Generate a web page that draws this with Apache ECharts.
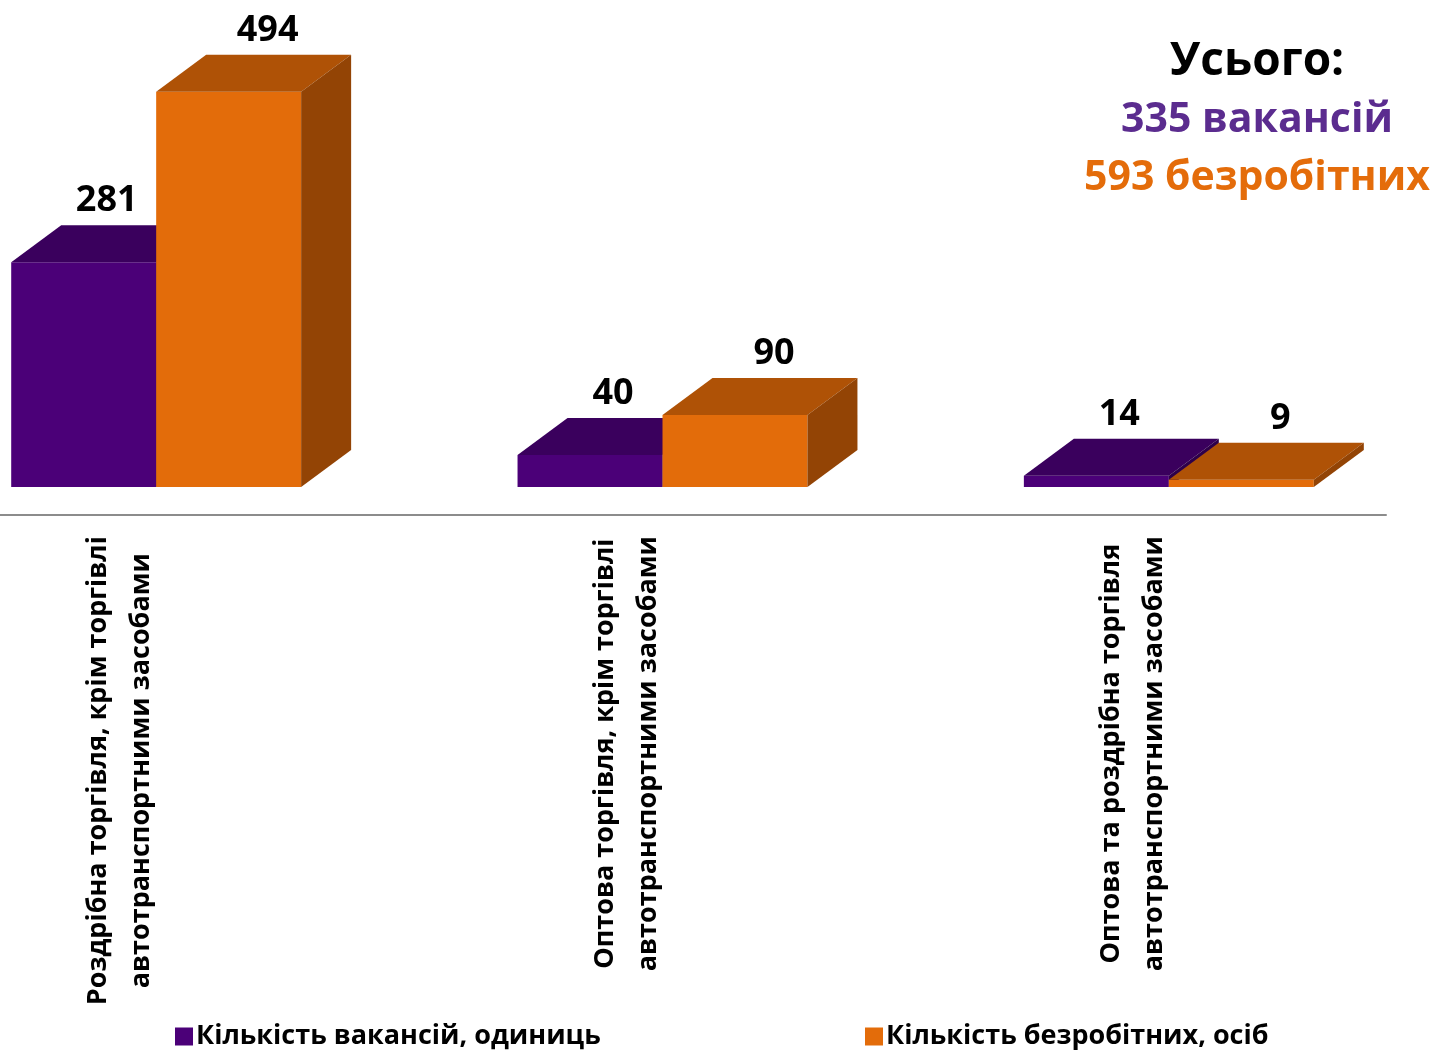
<!DOCTYPE html>
<html>
<head>
<meta charset="utf-8">
<script src="https://cdn.jsdelivr.net/npm/echarts@6/dist/echarts.min.js"></script>
<style>
html,body{margin:0;padding:0;background:#fff;}
#chart{width:1443px;height:1051px;}
</style>
</head>
<body>
<div id="chart"></div>
<script>
var categories = [
  'Роздрібна торгівля, крім торгівлі\nавтотранспортними засобами',
  'Оптова торгівля, крім торгівлі\nавтотранспортними засобами',
  'Оптова та роздрібна торгівля\nавтотранспортними засобами'
];
var vacancies = [281, 40, 14];
var unemployed = [494, 90, 9];
var seriesNames = ['Кількість вакансій, одиниць', 'Кількість безробітних, осіб'];
var totalLabel = 'Усього:';
var vacWord = 'вакансій';
var unempWord = 'безробітних';

var FONT = '"Open Sans", "Noto Sans", sans-serif';
var palettes = [
  {front: '#4B0078', top: '#3A005D', side: '#2E004A'},
  {front: '#E36C0A', top: '#AF5206', side: '#934405'}
];
var DX = 50, DY = -37;
var BAR_FRAC = 0.2863, OFFSET = -0.2152;

function sum(a){ var s=0; for (var i=0;i<a.length;i++) s+=a[i]; return s; }

function makeRender(sIdx) {
  var pal = palettes[sIdx];
  return function (params, api) {
    var cat = api.value(0), val = api.value(1);
    var base = api.coord([cat, 0]);
    var top = api.coord([cat, val]);
    var band = api.size([1, 0])[0];
    var bw = band * BAR_FRAC;
    var x0 = base[0] + band * OFFSET + sIdx * bw;
    var x1 = x0 + bw;
    var yb = base[1], yt = top[1];
    return {
      type: 'group',
      children: [
        {type: 'rect', shape: {x: x0, y: yt, width: bw, height: yb - yt},
         style: {fill: pal.front}},
        {type: 'polygon', shape: {points: [[x0, yt], [x0 + DX, yt + DY], [x1 + DX, yt + DY], [x1, yt]]},
         style: {fill: pal.top}},
        {type: 'polygon', shape: {points: [[x1, yt], [x1 + DX, yt + DY], [x1 + DX, yb + DY], [x1, yb]]},
         style: {fill: pal.side}},
        {type: 'text', x: (x0 + x1) / 2 + DX / 2 + (sIdx ? 14 : -2), y: yt + DY - 24,
         style: {text: String(val), fill: '#000', font: 'bold 36px ' + FONT,
                 textAlign: 'center', textVerticalAlign: 'middle'}}
      ]
    };
  };
}

function toData(arr){ return arr.map(function(v,i){ return [i, v]; }); }

var chart = echarts.init(document.getElementById('chart'));
chart.setOption({
  backgroundColor: '#fff',
  animation: false,
  grid: {left: -133, width: 1519, top: 7, height: 508, containLabel: false, outerBoundsMode: 'none'},
  xAxis: {
    type: 'category',
    data: categories,
    axisLine: {show: true, onZero: false, lineStyle: {color: '#8C8C8C', width: 2}},
    axisTick: {show: false},
    splitLine: {show: false},
    axisLabel: {
      interval: 0,
      rotate: 90,
      margin: 21,
      formatter: function (v) {
        return v.split('\n').map(function (l) { return '{a|' + l + '}'; }).join('\n');
      },
      rich: {a: {align: 'center', fontFamily: FONT, fontWeight: 'bold', fontSize: 27, lineHeight: 43, color: '#000'}}
    }
  },
  yAxis: {type: 'value', min: -35, max: 600, show: false, splitLine: {show: false}},
  legend: [
    {data: [seriesNames[0]], left: 170, top: 1018, icon: 'rect', itemWidth: 18, itemHeight: 18, itemGap: 8,
     textStyle: {fontFamily: FONT, fontWeight: 'bold', fontSize: 27, color: '#000', padding: [0,0,0,-2]}},
    {data: [seriesNames[1]], left: 860, top: 1018, icon: 'rect', itemWidth: 18, itemHeight: 18, itemGap: 8,
     textStyle: {fontFamily: FONT, fontWeight: 'bold', fontSize: 27, color: '#000', padding: [0,0,0,-2]}}
  ],
  graphic: [
    {type: 'text', x: 1257, y: 62, style: {text: totalLabel, fill: '#000', font: 'bold 46px ' + FONT, textAlign: 'center', textVerticalAlign: 'middle'}},
    {type: 'text', x: 1257, y: 120, style: {text: sum(vacancies) + ' ' + vacWord, fill: '#5B2C8F', font: 'bold 41px ' + FONT, textAlign: 'center', textVerticalAlign: 'middle'}},
    {type: 'text', x: 1257, y: 178, style: {text: sum(unemployed) + ' ' + unempWord, fill: '#E46C0A', font: 'bold 41px ' + FONT, textAlign: 'center', textVerticalAlign: 'middle'}}
  ],
  series: [
    {name: seriesNames[0], type: 'custom', renderItem: makeRender(0), data: toData(vacancies),
     itemStyle: {color: palettes[0].front}, encode: {x: 0, y: 1}},
    {name: seriesNames[1], type: 'custom', renderItem: makeRender(1), data: toData(unemployed),
     itemStyle: {color: palettes[1].front}, encode: {x: 0, y: 1}}
  ]
});
</script>
</body>
</html>
